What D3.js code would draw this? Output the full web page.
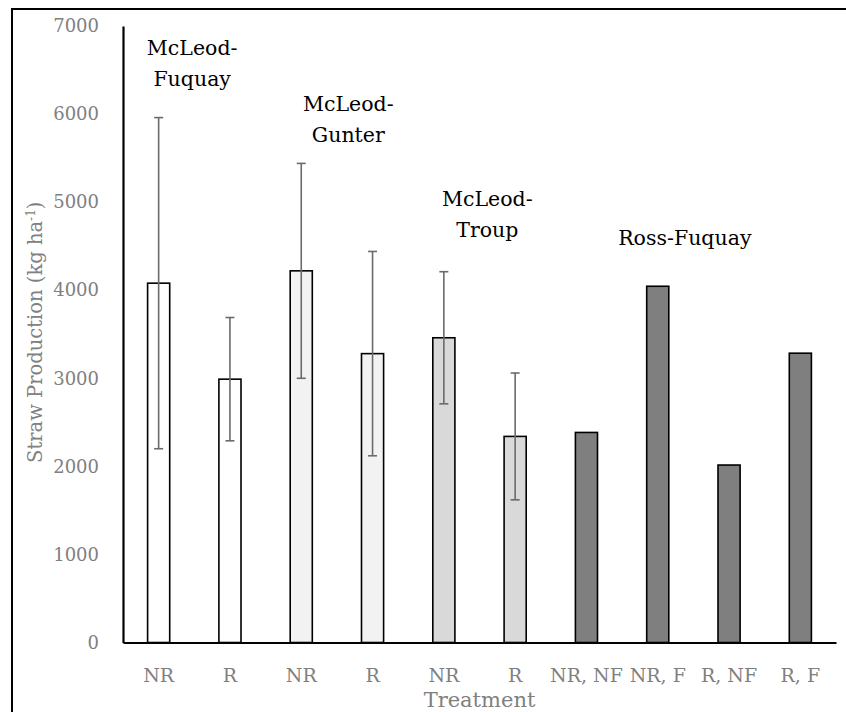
<!DOCTYPE html>
<html>
<head>
<meta charset="utf-8">
<script src="https://cdn.jsdelivr.net/npm/d3@7/dist/d3.min.js"></script>
<style>
  html, body { margin: 0; padding: 0; background: #fff; }
  svg { display: block; }
  text { font-family: "DejaVu Serif", "Liberation Serif", serif; }
</style>
</head>
<body>
<svg id="chart" width="846" height="712"></svg>
<script>
// ---- data ----
const categories = ["NR", "R", "NR", "R", "NR", "R", "NR, NF", "NR, F", "R, NF", "R, F"];
const values = [4080, 2990, 4220, 3280, 3460, 2340, 2385, 4045, 2015, 3285];
const errors = [1880, 700, 1220, 1160, 750, 720, null, null, null, null];
const siteOf = [0, 0, 1, 1, 2, 2, 3, 3, 3, 3];
const siteNames = ["McLeod-Fuquay", "McLeod-Gunter", "McLeod-Troup", "Ross-Fuquay"];
const siteFills = ["#ffffff", "#f2f2f2", "#d9d9d9", "#7f7f7f"];
const siteLabelLines = [["McLeod-", "Fuquay"], ["McLeod-", "Gunter"], ["McLeod-", "Troup"], ["Ross-Fuquay"]];
const siteLabelPos = [0.47, 2.66, 4.61, 7.38];      // in category-index units
const siteLabelValue = [6676, 6040, 4960, 4517];    // baseline height in data units
const yTicks = [0, 1000, 2000, 3000, 4000, 5000, 6000, 7000];
const yTitle = "Straw Production (kg ha";
const xTitle = "Treatment";

(function () {
// ---- layout ----
const svg = d3.select("#chart");
const pLeft = 123, pRight = 836, pTop = 26, pBottom = 642.5;

// outer frame
svg.append("rect").attr("x", 12).attr("y", 9).attr("width", 900).attr("height", 800)
  .attr("fill", "none").attr("stroke", "#000").attr("stroke-width", 2);

const x = d3.scaleBand().domain(d3.range(categories.length)).range([pLeft, pRight])
  .paddingInner(0.69).paddingOuter(0.345);
const xPos = d3.scaleLinear().domain([-0.5, categories.length - 0.5]).range([pLeft, pRight]);
const y = d3.scaleLinear().domain([0, 7000]).range([pBottom, pTop]);

// bars
svg.append("g").selectAll("rect").data(values).join("rect")
  .attr("x", (d, i) => x(i))
  .attr("y", d => y(d))
  .attr("width", x.bandwidth())
  .attr("height", d => y(0) - y(d))
  .attr("fill", (d, i) => siteFills[siteOf[i]])
  .attr("stroke", "#000")
  .attr("stroke-width", 1.6);

// error bars
const eg = svg.append("g").attr("stroke", "#6b6b6b").attr("stroke-width", 1.6);
values.forEach((v, i) => {
  const e = errors[i];
  if (e == null) return;
  const cx = x(i) + x.bandwidth() / 2;
  eg.append("line").attr("x1", cx).attr("x2", cx).attr("y1", y(v - e)).attr("y2", y(v + e));
  eg.append("line").attr("x1", cx - 4.5).attr("x2", cx + 4.5).attr("y1", y(v + e)).attr("y2", y(v + e));
  eg.append("line").attr("x1", cx - 4.5).attr("x2", cx + 4.5).attr("y1", y(v - e)).attr("y2", y(v - e));
});

// y axis
const yAxis = svg.append("g").attr("transform", `translate(${pLeft},0)`)
  .call(d3.axisLeft(y).tickValues(yTicks).tickSize(0).tickPadding(24).tickFormat(d3.format("d")));
yAxis.select(".domain").attr("stroke", "#000").attr("stroke-width", 2.2);
yAxis.selectAll("text").attr("fill", "#808080").style("font-size", "18px")
  .style("font-family", '"DejaVu Serif", serif');

// x axis
const xAxis = svg.append("g").attr("transform", `translate(0,${pBottom})`)
  .call(d3.axisBottom(x).tickSize(0).tickPadding(26).tickFormat(i => categories[i]));
xAxis.select(".domain").attr("stroke", "#000").attr("stroke-width", 2.2);
xAxis.selectAll("text").attr("fill", "#808080").style("font-size", "19px")
  .style("font-family", '"DejaVu Serif", serif');

// axis titles
svg.append("text").attr("x", (pLeft + pRight) / 2).attr("y", 707)
  .attr("text-anchor", "middle").attr("fill", "#808080").style("font-size", "21px")
  .text(xTitle);

const yt = svg.append("text")
  .attr("transform", `translate(42,${(pTop + pBottom) / 2 - 2}) rotate(-90)`)
  .attr("text-anchor", "middle").attr("fill", "#808080").style("font-size", "19.5px");
yt.append("tspan").text(yTitle);
yt.append("tspan").attr("dy", -7).style("font-size", "12px").text("-1");
yt.append("tspan").attr("dy", 7).text(")");

// site labels
siteLabelLines.forEach((lines, k) => {
  const t = svg.append("text").attr("text-anchor", "middle").attr("fill", "#000")
    .style("font-size", "20.5px");
  lines.forEach((ln, j) => {
    t.append("tspan").attr("x", xPos(siteLabelPos[k])).attr("y", y(siteLabelValue[k]) + j * 31).text(ln);
  });
});
})();
</script>
</body>
</html>
